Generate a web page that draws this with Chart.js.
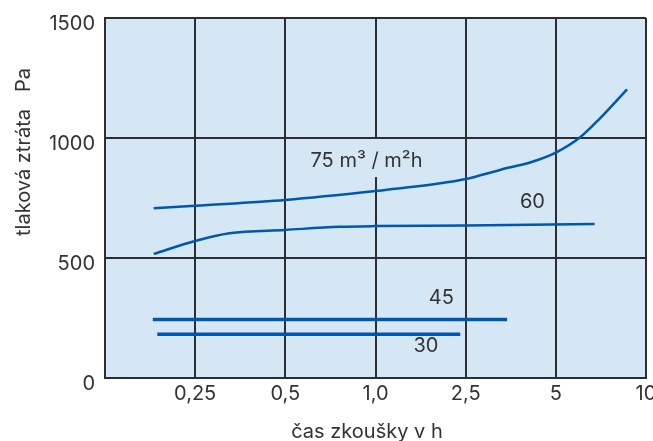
<!DOCTYPE html>
<html lang="cs">
<head>
<meta charset="utf-8">
<script src="https://cdn.jsdelivr.net/npm/chart.js@4/dist/chart.umd.min.js"></script>
<style>
  html, body { margin: 0; padding: 0; background: #fff; }
  #wrap { width: 653px; height: 441px; }
</style>
</head>
<body>
<div id="wrap"><canvas id="c" width="653" height="441"></canvas></div>
<script>
// x positions are equally spaced steps of the time axis (0 .. 6)
const xTickLabels = ['', '0,25', '0,5', '1,0', '2,5', '5', '10'];
const yTicks = [0, 500, 1000, 1500];

// 75 m3/m2h
const x75 = [0.54, 1.0, 2.0, 3.0, 3.7, 4.0, 4.38, 4.74, 5.0, 5.27, 5.49, 5.79];
const y75 = [707, 718, 742, 779, 810, 829, 867, 901, 939, 1003, 1082, 1203];
// 60 m3/m2h
const x60 = [0.54, 1.0, 1.38, 2.0, 2.6, 3.0, 4.0, 5.43];
const y60 = [517, 571, 603, 617, 630, 633, 635, 642];
// 45 m3/m2h
const x45 = [0.53, 4.46];
const y45 = [244, 244];
// 30 m3/m2h
const x30 = [0.58, 3.94];
const y30 = [182, 182];

const seriesLabels = ['75 m³ / m²h', '60', '45', '30'];

const BLUE = '#0057b0';
const GRID = '#2b2e33';
const TEXT = '#333';
const FONT = "Inter, 'Noto Sans', sans-serif";

function pts(xs, ys) {
  return xs.map((x, i) => ({ x, y: ys[i] }));
}

function lineSet(label, data, width) {
  return {
    label,
    data,
    showLine: true,
    borderColor: BLUE,
    backgroundColor: BLUE,
    borderWidth: width,
    pointRadius: 0,
    cubicInterpolationMode: 'monotone',
    fill: false
  };
}

const decor = {
  id: 'decor',
  beforeDraw(chart) {
    const { ctx, chartArea: a } = chart;
    ctx.save();
    ctx.fillStyle = '#d5e7f5';
    ctx.fillRect(a.left, a.top, a.right - a.left, a.bottom - a.top);
    ctx.restore();
  },
  beforeDatasetsDraw(chart) {
    const { ctx, scales } = chart;
    const xs = scales.x, ys = scales.y;
    ctx.save();
    // label box hides part of the 1,0 grid line
    ctx.fillStyle = '#d5e7f5';
    ctx.fillRect(xs.getPixelForValue(3) - 6, ys.getPixelForValue(1000) + 1, 12, 38);
    ctx.restore();
  },
  afterDraw(chart) {
    const { ctx, scales } = chart;
    const xs = scales.x, ys = scales.y;
    ctx.save();
    ctx.fillStyle = TEXT;
    ctx.font = '20px ' + FONT;
    // x tick labels
    ctx.textAlign = 'center';
    ctx.textBaseline = 'middle';
    xTickLabels.forEach((t, i) => {
      if (t) ctx.fillText(t, xs.getPixelForValue(i), ys.bottom + 16);
    });
    // y tick labels
    ctx.textAlign = 'right';
    yTicks.forEach(v => {
      ctx.fillText(String(v), xs.left - 10, ys.getPixelForValue(v) + 6);
    });
    // axis titles
    ctx.textAlign = 'center';
    ctx.textBaseline = 'alphabetic';
    ctx.fillText('čas zkoušky v h', 367, 438);
    ctx.save();
    ctx.translate(30, 152);
    ctx.rotate(-Math.PI / 2);
    ctx.fillText('tlaková ztráta   Pa', 0, 0);
    ctx.restore();
    // series labels
    ctx.textBaseline = 'middle';
    ctx.fillText(seriesLabels[0], xs.getPixelForValue(2.9), ys.getPixelForValue(905));
    ctx.fillText(seriesLabels[1], xs.getPixelForValue(4.74), ys.getPixelForValue(735));
    ctx.fillText(seriesLabels[2], xs.getPixelForValue(3.73), ys.getPixelForValue(333));
    ctx.fillText(seriesLabels[3], xs.getPixelForValue(3.56), ys.getPixelForValue(133));
    ctx.restore();
  }
};

new Chart(document.getElementById('c'), {
  type: 'scatter',
  data: {
    datasets: [
      lineSet(seriesLabels[0], pts(x75, y75), 2.5),
      lineSet(seriesLabels[1], pts(x60, y60), 2.5),
      lineSet(seriesLabels[2], pts(x45, y45), 3.5),
      lineSet(seriesLabels[3], pts(x30, y30), 3.5)
    ]
  },
  options: {
    responsive: false,
    animation: false,
    layout: { padding: { left: 105, right: 7, top: 18, bottom: 63 } },
    plugins: {
      legend: { display: false },
      tooltip: { enabled: false }
    },
    scales: {
      x: {
        type: 'linear',
        min: 0,
        max: 6,
        ticks: { display: false, stepSize: 1 },
        grid: { color: GRID, lineWidth: 2, drawTicks: false },
        border: { display: true, color: GRID, width: 2 }
      },
      y: {
        min: 0,
        max: 1500,
        ticks: { display: false, stepSize: 500 },
        grid: { color: GRID, lineWidth: 2, drawTicks: false },
        border: { display: true, color: GRID, width: 2 }
      }
    }
  },
  plugins: [decor]
});
</script>
</body>
</html>
